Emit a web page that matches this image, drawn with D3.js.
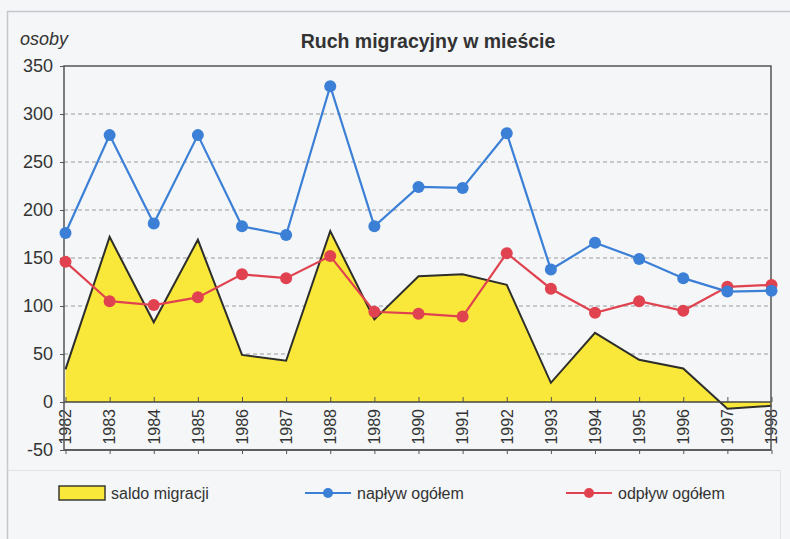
<!DOCTYPE html>
<html>
<head>
<meta charset="utf-8">
<script src="https://cdn.jsdelivr.net/npm/d3@7"></script>
<style>
  body { margin: 0; background: #f4f6f8; }
  svg { display: block; font-family: "Liberation Sans", Arial, sans-serif; }
</style>
</head>
<body>
<div id="chart"></div>
<script>
// chart size
var chart_width = 790;
var chart_height = 539;

// data
var years = ['1982','1983','1984','1985','1986','1987','1988','1989','1990',
             '1991','1992','1993','1994','1995','1996','1997','1998'];
var saldo = [34, 172, 83, 169, 49, 43, 178, 86, 131, 133, 122, 20, 72, 44, 35, -7, -4];
var naplyw = [176, 278, 186, 278, 183, 174, 329, 183, 224, 223, 280, 138, 166, 149, 129, 115, 116];
var odplyw = [146, 105, 101, 109, 133, 129, 152, 94, 92, 89, 155, 118, 93, 105, 95, 120, 122];
var y_ticks = [-50, 0, 50, 100, 150, 200, 250, 300, 350];
var legend_labels = ['saldo migracji', 'napływ ogółem', 'odpływ ogółem'];

var blue = '#3b7fd6';
var red = '#e0434f';
var yellow = '#f9e83a';

// plot box (window.top is read-only, so other names)
var p_left = 64, p_right = 771, p_top = 66, p_bottom = 450;

var svg = d3.select('#chart')
            .append('svg')
            .attr('width', chart_width)
            .attr('height', chart_height);

// outer frame (faint)
svg.append('path')
   .attr('d', 'M7.5,' + chart_height + 'V11.5H' + chart_width)
   .attr('fill', 'none')
   .attr('stroke', '#c4c8cc')
   .attr('stroke-width', 1.5);

var x = d3.scalePoint().domain(years).range([p_left + 1.5, p_right + 0.5]);
var y = d3.scaleLinear().domain([-50, 350]).range([p_bottom, p_top]);

// gridlines
svg.append('g')
   .selectAll('line')
   .data(y_ticks.filter(function(d){ return d > 0 && d < 350; }))
   .enter()
   .append('line')
   .attr('x1', p_left).attr('x2', p_right)
   .attr('y1', function(d){ return y(d); })
   .attr('y2', function(d){ return y(d); })
   .attr('stroke', '#9a9a9a')
   .attr('stroke-width', 1)
   .attr('stroke-dasharray', '4,3');

// saldo area
var area = d3.area()
             .x(function(d, i){ return x(years[i]); })
             .y0(y(0))
             .y1(function(d){ return y(d); });
svg.append('path')
   .datum(saldo)
   .attr('d', area)
   .attr('fill', yellow);

var line = d3.line()
             .x(function(d, i){ return x(years[i]); })
             .y(function(d){ return y(d); });

svg.append('path')
   .datum(saldo)
   .attr('d', line)
   .attr('fill', 'none')
   .attr('stroke', '#2e2e2a')
   .attr('stroke-width', 2);

// zero axis
svg.append('g')
   .attr('transform', 'translate(0,' + y(0) + ')')
   .call(d3.axisTop(x).tickSize(5).tickFormat(''))
   .call(function(g){
       g.select('.domain').attr('stroke', '#444').attr('stroke-width', 1.5)
        .attr('d', 'M' + p_left + ',0H' + p_right);
       g.selectAll('.tick line').attr('stroke', '#555');
   });

// bottom axis
svg.append('g')
   .attr('transform', 'translate(0,' + p_bottom + ')')
   .call(d3.axisBottom(x).tickSize(4).tickFormat(''))
   .call(function(g){
       g.select('.domain').attr('stroke', '#555').attr('stroke-width', 1.5)
        .attr('d', 'M' + p_left + ',0H' + p_right);
       g.selectAll('.tick line').attr('stroke', '#555');
   });

// year labels
svg.append('g')
   .selectAll('text')
   .data(years)
   .enter()
   .append('text')
   .attr('transform', function(d){ return 'translate(' + x(d) + ',' + (y(0) + 7) + ') rotate(-90)'; })
   .attr('text-anchor', 'end')
   .attr('dy', '0.36em')
   .attr('font-size', 16)
   .attr('fill', '#333')
   .text(function(d){ return d; });

// plot frame
svg.append('rect')
   .attr('x', p_left).attr('y', p_top)
   .attr('width', p_right - p_left).attr('height', p_bottom - p_top)
   .attr('fill', 'none')
   .attr('stroke', '#555')
   .attr('stroke-width', 1.5);

// y axis (plain hyphen for minus, as in the original)
svg.append('g')
   .attr('transform', 'translate(' + p_left + ',0)')
   .call(d3.axisLeft(y).tickValues(y_ticks).tickSize(4).tickPadding(7)
           .tickFormat(function(d){ return String(d); }))
   .call(function(g){
       g.select('.domain').remove();
       g.selectAll('.tick line').attr('stroke', '#555');
       g.selectAll('.tick text')
        .attr('font-size', 18)
        .attr('fill', '#333')
        .attr('font-family', '"Liberation Sans", Arial, sans-serif');
   });

// lines with markers
function draw_series(values, colour){
    svg.append('path')
       .datum(values)
       .attr('d', line)
       .attr('fill', 'none')
       .attr('stroke', colour)
       .attr('stroke-width', 2.2);
    svg.append('g')
       .selectAll('circle')
       .data(values)
       .enter()
       .append('circle')
       .attr('cx', function(d, i){ return x(years[i]); })
       .attr('cy', function(d){ return y(d); })
       .attr('r', 6)
       .attr('fill', colour);
}
draw_series(odplyw, red);
draw_series(naplyw, blue);

// title and unit
svg.append('text')
   .attr('x', 428).attr('y', 48)
   .attr('text-anchor', 'middle')
   .attr('font-size', 19.5)
   .attr('font-weight', 'bold')
   .attr('fill', '#333')
   .text('Ruch migracyjny w mieście');

svg.append('text')
   .attr('x', 20).attr('y', 45)
   .attr('font-size', 18)
   .attr('font-style', 'italic')
   .attr('fill', '#333')
   .text('osoby');

// legend
var lg = svg.append('g');
lg.append('path')
  .attr('d', 'M7.5,470.5H780.5V' + chart_height)
  .attr('fill', 'none')
  .attr('stroke', '#e0e3e6')
  .attr('stroke-width', 1);

lg.append('rect')
  .attr('x', 59).attr('y', 486)
  .attr('width', 46).attr('height', 14)
  .attr('fill', yellow)
  .attr('stroke', '#3a3a30')
  .attr('stroke-width', 1.5);
lg.append('text')
  .attr('x', 111).attr('y', 499)
  .attr('font-size', 16)
  .attr('fill', '#333')
  .text(legend_labels[0]);

[[blue, 305, legend_labels[1]], [red, 566, legend_labels[2]]].forEach(function(e){
    lg.append('line')
      .attr('x1', e[1]).attr('x2', e[1] + 46)
      .attr('y1', 493).attr('y2', 493)
      .attr('stroke', e[0]).attr('stroke-width', 2);
    lg.append('circle')
      .attr('cx', e[1] + 23).attr('cy', 493).attr('r', 5)
      .attr('fill', e[0]);
    lg.append('text')
      .attr('x', e[1] + 52).attr('y', 499)
      .attr('font-size', 16)
      .attr('fill', '#333')
      .text(e[2]);
});
</script>
</body>
</html>
